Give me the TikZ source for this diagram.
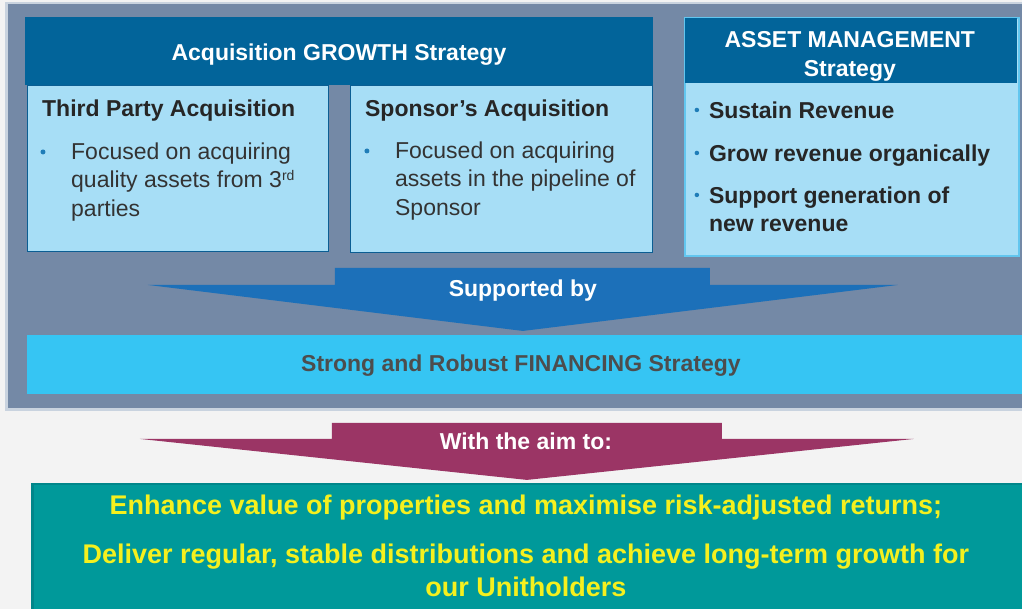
\documentclass[tikz,border=0pt]{standalone}
\usepackage{fontspec}
\setmainfont{Liberation Sans}
\usepackage{xcolor}
\usepackage{tikz}
\usetikzlibrary{positioning}
\definecolor{pagebg}{HTML}{F3F3F3}
\definecolor{panel}{HTML}{7489A6}
\definecolor{panelrim}{HTML}{C9D3DF}
\definecolor{deepblue}{HTML}{02649A}
\definecolor{paleblue}{HTML}{A7DEF6}
\definecolor{boxrim}{HTML}{0B5E93}
\definecolor{assetrim}{HTML}{62C6EF}
\definecolor{arrowblue}{HTML}{1C70B9}
\definecolor{finance}{HTML}{36C5F3}
\definecolor{finetext}{HTML}{4D4D4D}
\definecolor{aimred}{HTML}{9B3565}
\definecolor{teal}{HTML}{00999A}
\definecolor{tealrim}{HTML}{00868A}
\definecolor{goal}{HTML}{F5F01E}
\definecolor{dotblue}{HTML}{1F7DB8}

\begin{document}
\begin{tikzpicture}[x=1pt, y=-1pt,
    header/.style={fill=deepblue, inner sep=0, anchor=north west},
    headtext/.style={inner sep=0, text=white, font=\fontsize{23}{29}\selectfont\bfseries, align=center},
    tile/.style={draw=boxrim, line width=1.5pt, fill=paleblue, inner sep=0, anchor=north west},
    tiletitle/.style={anchor=base west, inner sep=0, text=black!85, font=\fontsize{23}{28}\selectfont\bfseries},
    tilebody/.style={anchor=north west, inner sep=0, text=black!80, align=left,
        font=\fontsize{23}{28.5}\selectfont},
    bullet/.style={circle, fill=dotblue, inner sep=0, minimum size=5pt},
    banner/.style={inner sep=0, anchor=base, font=\fontsize{23}{28}\selectfont\bfseries},
    goaltext/.style={inner sep=0, text=goal, font=\fontsize{27}{33}\selectfont\bfseries, align=center}]
        % backdrop and panel
        \fill[pagebg] (0,0) rectangle (1022,609);
        \fill[panelrim] (5,2) rectangle (1022,411);
        \fill[panel] (8,4) rectangle (1022,408);
        % acquisition growth strategy
        \node[header, minimum width=628pt, minimum height=68pt] (G) at (25,17) {};
        \node[headtext, anchor=base] (Gt) at (339,61) {Acquisition GROWTH Strategy};
        \node[tile, minimum width=301pt, minimum height=166pt] (T) at (27,85) {};
        \node[tile, minimum width=302pt, minimum height=167pt] (S) at (350,85) {};
        \node[tiletitle] (Tt) at (42,117) {Third Party Acquisition};
        \node[tiletitle] (St) at (365,117) {Sponsor’s Acquisition};
        \node[bullet] (Tb) at (43,152) {};
        \node[bullet] (Sb) at (367,151) {};
        \node[tilebody] (Tx) at (71,142.5) {Focused on acquiring\\quality assets from 3{\fontsize{14}{14}\selectfont\raisebox{7pt}{rd}}\\parties};
        \node[tilebody] (Sx) at (395,141.5) {Focused on acquiring\\assets in the pipeline of\\Sponsor};
        % asset management strategy
        \node[draw=assetrim, line width=2pt, fill=paleblue, inner sep=0, anchor=north west,
            minimum width=334pt, minimum height=238pt] (A) at (684,17) {};
        \node[header, minimum width=332pt, minimum height=65pt] (Ah) at (685,18) {};
        \node[headtext, anchor=north] (At) at (850,31.5) {ASSET MANAGEMENT\\Strategy};
        \node[bullet, minimum size=4.5pt] (A1) at (697,110) {};
        \node[bullet, minimum size=4.5pt] (A2) at (697,153) {};
        \node[bullet, minimum size=4.5pt] (A3) at (697,195) {};
        \node[tilebody, text=black!85, font=\fontsize{23}{28}\selectfont\bfseries] (Ax) at (709,101.5)
            {Sustain Revenue\\[15pt]Grow revenue organically\\[14pt]Support generation of\\new revenue};
        % supported by
        \fill[arrowblue] (335,268) -- (710,268) -- (710,285) -- (898,285) -- (523,331)
            -- (148,285) -- (335,285) -- cycle;
        \node[banner, text=white] (Sup) at (523,297) {Supported by};
        \node[fill=finance, inner sep=0, anchor=north west, minimum width=995pt, minimum height=59pt] (F) at (27,335) {};
        \node[banner, text=finetext] (Ft) at (521,372) {Strong and Robust FINANCING Strategy};
        % with the aim to
        \fill[aimred] (332,423) -- (722,423) -- (722,439) -- (914,439) -- (527,480)
            -- (140,439) -- (332,439) -- cycle;
        \node[banner, text=white] (Aim) at (526,450) {With the aim to:};
        \fill[tealrim] (31,483) rectangle (1022,609);
        \fill[teal] (34,485) rectangle (1022,609);
        \node[goaltext, anchor=base] (E1) at (526,515) {Enhance value of properties and maximise risk-adjusted returns;};
        \node[goaltext, anchor=north] (E2) at (526,543.5)
            {Deliver regular, stable distributions and achieve long-term growth for\\our Unitholders};
    \end{tikzpicture}
\end{document}
